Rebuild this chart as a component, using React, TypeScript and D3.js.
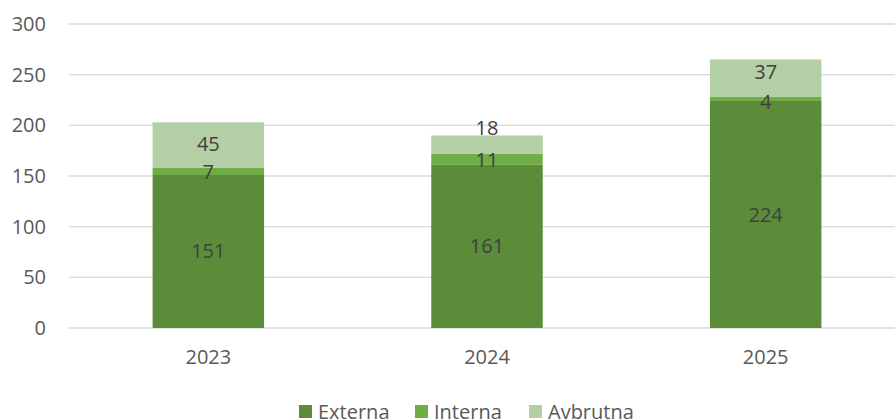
import React from "react";
import * as d3 from "d3";

const categories = ["2023", "2024", "2025"];
const seriesNames = ["Externa", "Interna", "Avbrutna"];
const externa = [151, 161, 224];
const interna = [7, 11, 4];
const avbrutna = [45, 18, 37];
const yTicks = [0, 50, 100, 150, 200, 250, 300];
const colors = ["#5A8C39", "#70AD47", "#B4CFA5"];
// label nudges (px) applied to avoid overlapping labels, per series then category
const labelNudge = [
  [0, 0, 0],
  [1, 1, 3],
  [-1, -17, -6],
];

const W = 895;
const H = 419;
const FONT = "'Open Sans', 'Liberation Sans', sans-serif";

export default function App() {
  const x = d3.scaleBand<string>().domain(categories).range([69, 905]).padding(0);
  const y = d3.scaleLinear().domain([0, 300]).range([328, 24]);
  const barW = x.bandwidth() * 0.4;

  const table = categories.map((c, i) => ({
    cat: c,
    Externa: externa[i],
    Interna: interna[i],
    Avbrutna: avbrutna[i],
  }));
  const stacked = d3.stack<any>().keys(seriesNames)(table);

  const legendX = [299, 415, 529];

  return (
    <svg
      width={W}
      height={H}
      style={{ position: "absolute", left: 0, top: 0, background: "#fff" }}
      fontFamily={FONT}
    >
      {yTicks.map((t) => (
        <g key={t}>
          <line x1={69} x2={W} y1={y(t)} y2={y(t)} stroke="#D9D9D9" strokeWidth={1.4} />
          <text x={46} y={y(t)} dy="0.35em" textAnchor="end" fontSize={20} fill="#595959">
            {t}
          </text>
        </g>
      ))}
      {stacked.map((s, si) => (
        <g key={s.key}>
          {s.map((d, i) => {
            const cx = (x(categories[i]) as number) + x.bandwidth() / 2;
            const y0 = y(d[0]);
            const y1 = y(d[1]);
            return (
              <rect key={i} x={cx - barW / 2} y={y1} width={barW} height={y0 - y1} fill={colors[si]} />
            );
          })}
        </g>
      ))}
      {stacked.map((s, si) => (
        <g key={"l" + s.key}>
          {s.map((d, i) => {
            const cx = (x(categories[i]) as number) + x.bandwidth() / 2;
            const mid = (y(d[0]) + y(d[1])) / 2 + labelNudge[si][i];
            return (
              <text key={i} x={cx} y={mid} dy="0.35em" textAnchor="middle" fontSize={20} fill="#404040">
                {d[1] - d[0]}
              </text>
            );
          })}
        </g>
      ))}
      {categories.map((c) => (
        <text
          key={c}
          x={(x(c) as number) + x.bandwidth() / 2}
          y={357}
          dy="0.35em"
          textAnchor="middle"
          fontSize={20}
          fill="#595959"
        >
          {c}
        </text>
      ))}
      {seriesNames.map((n, i) => (
        <g key={n}>
          <rect x={legendX[i]} y={405} width={13} height={13} fill={colors[i]} />
          <text x={legendX[i] + 19} y={412} dy="0.35em" fontSize={20} fill="#595959">
            {n}
          </text>
        </g>
      ))}
    </svg>
  );
}
